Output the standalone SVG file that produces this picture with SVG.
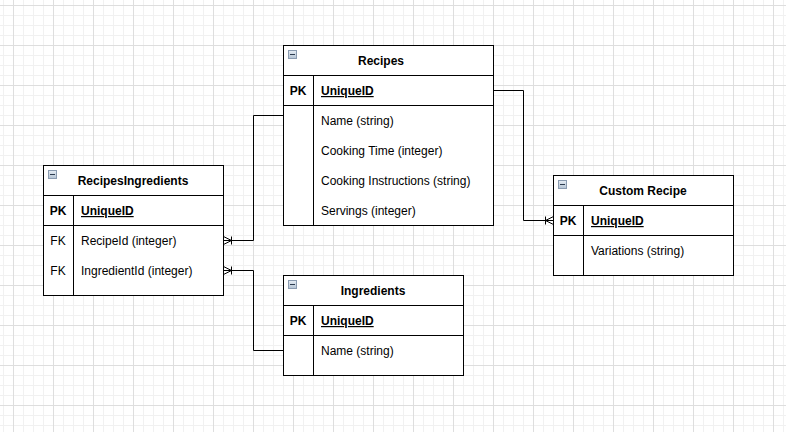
<svg xmlns="http://www.w3.org/2000/svg" width="786" height="432" viewBox="0 0 786 432">
<style>
.tbl{fill:#fff;stroke:#000;stroke-width:1}
.ln{fill:none;stroke:#000;stroke-width:1}
.t{font-family:"Liberation Sans",Arial,sans-serif;font-size:12px;fill:#000}
.b{font-weight:bold}
.c{text-anchor:middle}
.u{text-decoration:underline}
.icon{fill:url(#ig);stroke:#8a9bb0;stroke-width:1}
.minus{stroke:#2e3d4f;stroke-width:1}
</style>
<defs>
<pattern id="minor" x="3" y="5" width="10" height="10" patternUnits="userSpaceOnUse">
<path d="M0.5 0V10M0 0.5H10" stroke="#f1f1f1" stroke-width="1" fill="none"/>
</pattern>
<pattern id="major" x="13" y="5" width="40" height="40" patternUnits="userSpaceOnUse">
<path d="M0.5 0V40M0 0.5H40" stroke="#dedede" stroke-width="1" fill="none"/>
</pattern>
<linearGradient id="ig" x1="0" y1="0" x2="0" y2="1">
<stop offset="0" stop-color="#e6edf4"/>
<stop offset="1" stop-color="#b4c3d3"/>
</linearGradient>
</defs>
<rect width="786" height="432" fill="#fff"/>
<rect width="786" height="432" fill="url(#minor)"/>
<rect width="786" height="432" fill="url(#major)"/>

<g id="connectors">
<path class="ln" d="M493.5 90.5H523.5V220.5H553.5"/>
<path class="ln" d="M553.5 216.5L545.5 220.5L553.5 224.5M545.5 216.5V224.5"/>
<path class="ln" d="M283.5 115.5H253.5V240.5H223.5"/>
<path class="ln" d="M223.5 236.5L231.5 240.5L223.5 244.5M231.5 236.5V244.5"/>
<path class="ln" d="M283.5 350.5H253.5V270.5H223.5"/>
<path class="ln" d="M223.5 266.5L231.5 270.5L223.5 274.5M231.5 266.5V274.5"/>
</g>

<g id="recipes">
<rect class="tbl" x="283.5" y="45.5" width="210" height="180"/>
<path class="ln" d="M283.5 75.5H493.5M283.5 105.5H493.5M313.5 75.5V225.5"/>
<rect class="icon" x="288.5" y="50.5" width="8" height="8"/>
<path class="minus" d="M290 54.5H295"/>
<text class="t b c" x="381" y="65">Recipes</text>
<text class="t b c" x="298" y="95">PK</text>
<text class="t b u" x="321" y="95">UniqueID</text>
<text class="t" x="321" y="125">Name (string)</text>
<text class="t" x="321" y="155">Cooking Time (integer)</text>
<text class="t" x="321" y="185">Cooking Instructions (string)</text>
<text class="t" x="321" y="215">Servings (integer)</text>
</g>

<g id="recipesingredients">
<rect class="tbl" x="43.5" y="165.5" width="180" height="130"/>
<path class="ln" d="M43.5 195.5H223.5M43.5 225.5H223.5M73.5 195.5V295.5"/>
<rect class="icon" x="48.5" y="170.5" width="8" height="8"/>
<path class="minus" d="M50 174.5H55"/>
<text class="t b c" x="133" y="185">RecipesIngredients</text>
<text class="t b c" x="58" y="215">PK</text>
<text class="t b u" x="81" y="215">UniqueID</text>
<text class="t c" x="58" y="245">FK</text>
<text class="t" x="81" y="245">RecipeId (integer)</text>
<text class="t c" x="58" y="275">FK</text>
<text class="t" x="81" y="275">IngredientId (integer)</text>
</g>

<g id="ingredients">
<rect class="tbl" x="283.5" y="275.5" width="180" height="100"/>
<path class="ln" d="M283.5 305.5H463.5M283.5 335.5H463.5M313.5 305.5V375.5"/>
<rect class="icon" x="288.5" y="280.5" width="8" height="8"/>
<path class="minus" d="M290 284.5H295"/>
<text class="t b c" x="373" y="295">Ingredients</text>
<text class="t b c" x="298" y="325">PK</text>
<text class="t b u" x="321" y="325">UniqueID</text>
<text class="t" x="321" y="355">Name (string)</text>
</g>

<g id="customrecipe">
<rect class="tbl" x="553.5" y="175.5" width="180" height="100"/>
<path class="ln" d="M553.5 205.5H733.5M553.5 235.5H733.5M583.5 205.5V275.5"/>
<rect class="icon" x="558.5" y="180.5" width="8" height="8"/>
<path class="minus" d="M560 184.5H565"/>
<text class="t b c" x="643" y="195">Custom Recipe</text>
<text class="t b c" x="568" y="225">PK</text>
<text class="t b u" x="591" y="225">UniqueID</text>
<text class="t" x="591" y="255">Variations (string)</text>
</g>
</svg>
